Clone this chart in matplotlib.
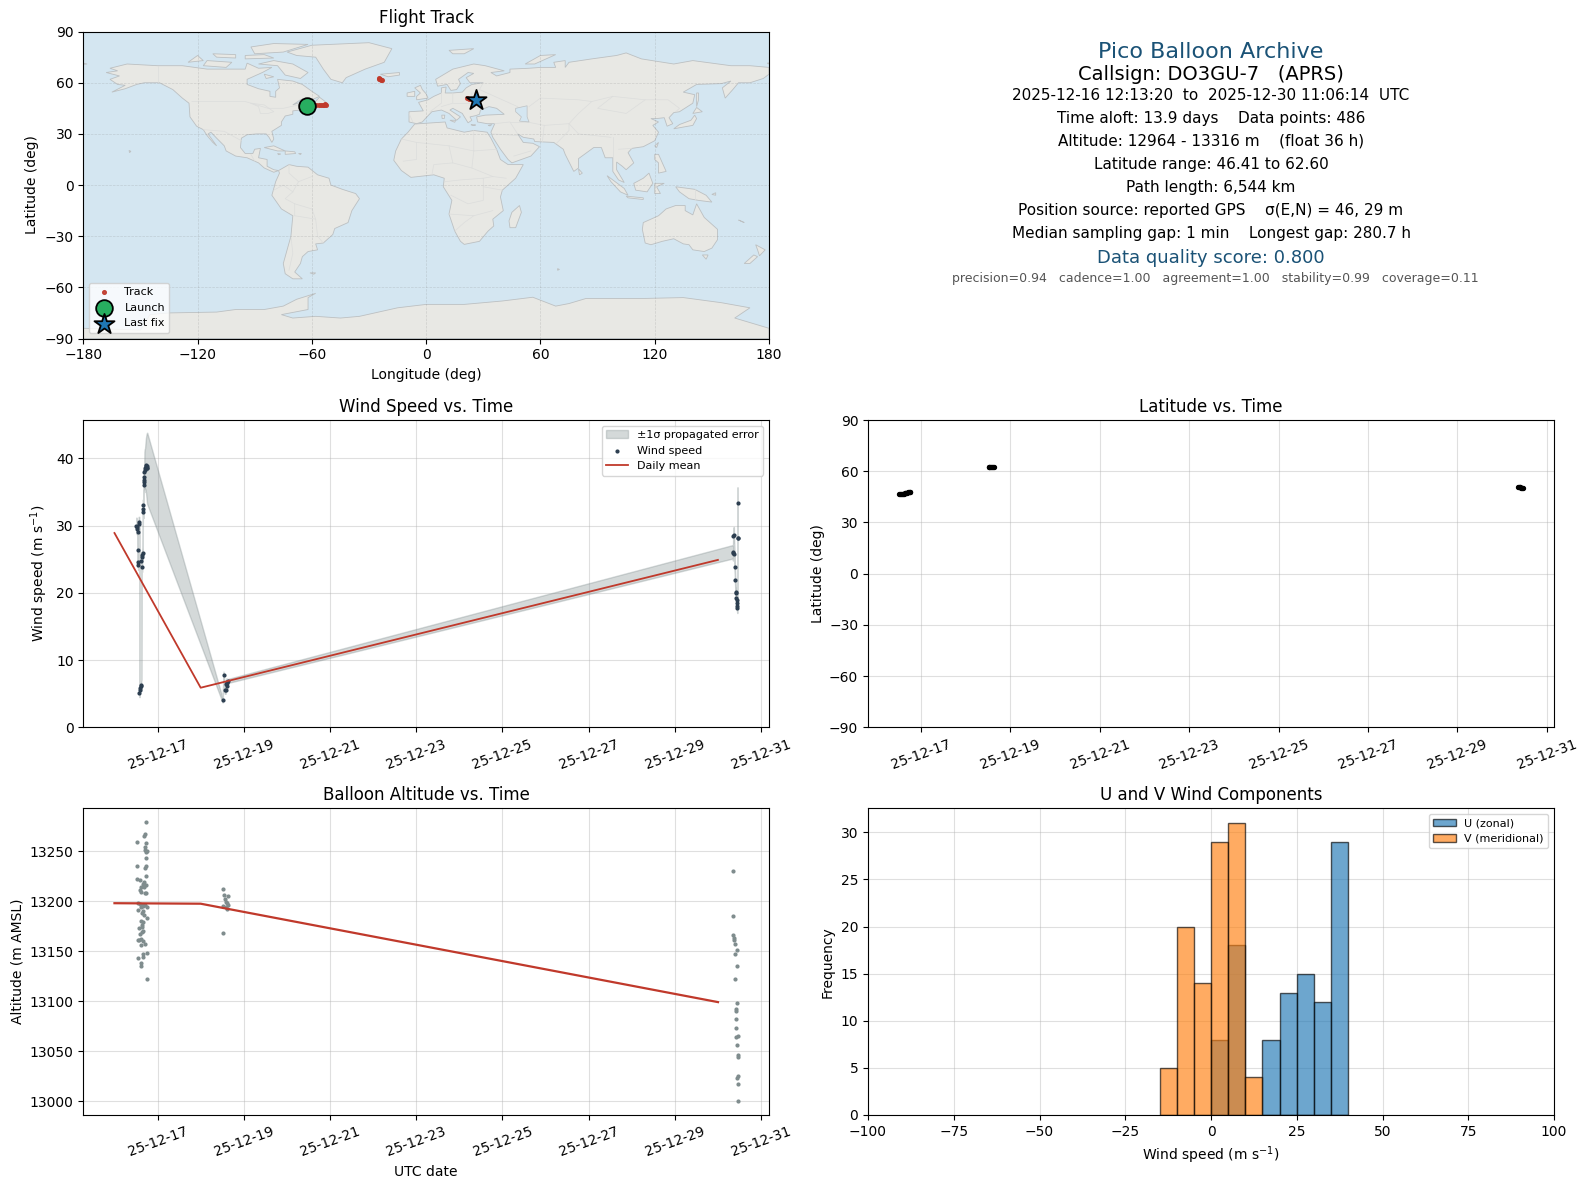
import datetime as dt
import numpy as np
import matplotlib
matplotlib.use("Agg")
import matplotlib.pyplot as plt
import matplotlib.dates as mdates

# ---------------- data ----------------
wind_day = [16.51,16.52,16.53,16.535,16.54,16.545,16.55,16.56,16.575,16.58,16.585,16.59,16.605,16.62,
            16.625,16.63,16.64,16.645,16.655,16.66,16.665,16.67,16.675,16.68,16.685,16.69,16.695,16.70,
            16.71,16.72,16.73,16.745,16.755,16.76,
            18.51,18.53,18.56,18.58,18.59,18.60,18.61,18.62,18.63,
            30.34,30.35,30.36,30.37,30.38,30.39,30.40,30.41,30.42,30.43,30.435,30.44,30.445,30.45,30.455,30.46,30.4625]
wind_val = [30.0,29.8,29.5,26.3,24.6,29.0,24.2,30.3,30.5,5.1,5.5,5.9,6.1,6.3,
            24.8,25.3,23.9,25.6,25.9,33.0,32.5,32.0,36.0,36.5,36.8,37.2,38.0,38.3,
            38.5,38.8,39.0,38.8,38.6,38.5,
            4.0,7.8,5.5,5.5,6.4,6.8,6.2,6.6,6.9,
            26.1,25.9,28.5,28.6,25.8,23.9,21.9,20.1,20.0,19.3,18.9,18.5,18.1,17.8,33.4,28.2,28.2]
wind_err = [1.2,1.0,1.0,1.0,0.8,1.0,0.8,1.0,0.8,0.6,0.6,0.6,0.6,0.8,
            0.8,0.8,0.8,0.8,0.8,0.9,0.9,0.9,1.2,1.2,1.5,1.5,3.0,3.0,
            3.0,3.5,4.0,4.8,5.2,5.3,
            0.3,0.5,0.5,0.5,0.5,0.5,0.5,0.4,0.3,
            1.0,1.1,1.2,1.2,1.1,1.0,1.0,0.9,0.9,0.9,0.9,0.9,0.9,0.8,2.3,0.6,0.5]
daily_day = [16, 18, 30]
wind_daily = [28.9, 5.9, 24.9]
alt_daily = [13198, 13197.5, 13099]

alt_day = [16.72,16.70,16.683,16.52,16.72,16.698,16.71,16.745,16.72,16.72,16.52,16.72,16.698,16.72,16.52,16.59,
           16.674,16.652,16.69,16.72,16.62,16.674,16.59,16.605,16.698,16.73,16.535,16.59,16.636,16.698,16.75,
           16.652,16.62,16.535,16.667,16.636,16.683,16.745,16.605,16.652,16.628,16.559,16.636,16.652,16.59,
           16.636,16.535,16.605,16.574,16.652,16.698,16.605,16.745,16.66,16.535,16.652,16.605,16.605,16.75,
           18.51,18.535,18.63,18.566,18.59,18.62,18.636,18.52,18.59,18.62,18.51,
           30.35,30.35,30.35,30.37,30.375,30.39,30.44,30.39,30.44,30.39,30.44,30.42,30.42,30.42,30.42,30.46,
           30.425,30.44,30.46,30.46,30.46,30.44,30.46,30.46]
alt_val = [13279,13267,13265,13259,13258,13254,13251,13250,13249,13243,13235,13235,13233,13225,13222,13221,
           13219,13217,13216,13216,13214,13214,13211,13209,13208,13208,13198,13197,13196,13196,13194,
           13195,13194,13191,13190,13188,13186,13183,13180,13179,13176,13173,13174,13170,13167,
           13169,13161,13162,13161,13160,13157,13156,13148,13147,13143,13144,13138,13135,13122,
           13212,13206,13205,13202,13199,13198,13196,13195,13194,13192,13168,
           13230,13185,13166,13163,13161,13157,13151,13147,13135,13122,13098,13092,13090,13082,13073,13065,
           13064,13056,13046,13044,13025,13023,13017,13000]

lat_day = [16.51,16.53,16.55,16.57,16.59,16.61,16.63,16.65,16.67,16.69,16.71,16.73,16.75,16.76,
           18.51,18.53,18.55,18.57,18.59,18.61,18.63,
           30.35,30.37,30.39,30.41,30.43,30.45,30.4625]
lat_val = [46.41,46.5,46.6,46.7,46.8,46.9,47.0,47.1,47.3,47.5,47.6,47.8,47.9,47.7,
           62.3,62.4,62.5,62.6,62.5,62.4,62.3,
           51.0,50.9,50.7,50.5,50.3,50.1,49.9]

track_lon = [-62.4,-60,-58,-56.5,-55,-54,-53.5,-53,-52.5,-25.0,-24.6,-24.2,-23.8,-23.4,21.3,22.5,23.5,24.0,24.8,25.5]
track_lat = [46.4,46.6,46.8,47,47.1,47.2,47.0,47.4,47.2,62.6,62.3,62,61.8,61.5,50.9,50.7,50.5,50.3,50.1,49.9]
launch_lon, launch_lat = -62.5, 46.41
last_lon, last_lat = 26.2, 49.7

bins = [-15,-10,-5,0,5,10,15,20,25,30,35]
u_counts = [0,0,0,8,18,0,8,13,15,12,29]
v_counts = [5,20,14,29,31,4,0,0,0,0,0]

info_lines = ["Pico Balloon Archive",
              "Callsign: DO3GU-7   (APRS)",
              "2025-12-16 12:13:20  to  2025-12-30 11:06:14  UTC",
              "Time aloft: 13.9 days    Data points: 486",
              "Altitude: 12964 - 13316 m    (float 36 h)",
              "Latitude range: 46.41 to 62.60",
              "Path length: 6,544 km",
              "Position source: reported GPS    σ(E,N) = 46, 29 m",
              "Median sampling gap: 1 min    Longest gap: 280.7 h",
              "Data quality score: 0.800",
              "precision=0.94   cadence=1.00   agreement=1.00   stability=0.99   coverage=0.11"]

# coarse land outlines, (lon, lat)
north_america = [(-168,66),(-162,67),(-166,68.5),(-157,71),(-141,70),(-128,70),(-115,68),(-108,68),(-95,68),(-94,71.5),
    (-88,68.5),(-81,69),(-86,66),(-94,62),(-94,59),(-88,56.5),(-82,55),(-82,52),(-79,51.5),(-79,55),(-77,57),(-78,62),
    (-70,61),(-65,59),(-60,55),(-56,52),(-60,50),(-66,50),(-70,47),(-65,49),(-65,47),(-61,46),(-66,44),(-70,43.5),
    (-70,41.5),(-74,40.5),(-76,37),(-76,35),(-81,31.5),(-80,27),(-81,25),(-82.5,28),(-84,30),(-89,30),(-94,29.5),
    (-97,27.5),(-97.5,22),(-95,18.5),(-91,18.5),(-90,21),(-87,21.5),(-88,16),(-83.5,15),(-83.5,11),(-80,9),(-77.5,8.5),
    (-80,7.5),(-85,10),(-88,13),(-94,16),(-100,17),(-105,20),(-106,23),(-110,27.5),(-113,31),(-114.5,30),(-110,23),
    (-112,25),(-115,29),(-117,32.5),(-120.5,34.5),(-124,40),(-124.5,48),(-128,51),(-133,56),(-140,60),(-148,60),
    (-152,59),(-158,56.5),(-165,54.5),(-158,58.5),(-162,59),(-166,62),(-161,64)]
greenland = [(-73,78),(-60,82),(-30,83.5),(-18,80),(-22,72),(-32,68),(-42,63),(-44,60),(-50,62),(-54,68),(-58,75),(-68,76)]
south_america = [(-77.5,8.5),(-72,12),(-68,11),(-62,10.5),(-57,6),(-51,4),(-50,0),(-44,-2.5),(-37,-5),(-35,-8),(-39,-15),
    (-41,-22),(-48,-25.5),(-49,-29),(-54,-34),(-58,-34.5),(-57,-38),(-62,-39),(-65,-42),(-66,-46),(-69,-51),(-65,-55),
    (-70,-55),(-74,-52),(-75,-46),(-73,-38),(-71,-30),(-70,-18),(-76,-14),(-81,-6),(-80,-2),(-79,2),(-77,7)]
africa = [(-6,35.8),(10,37),(11,33.5),(20,31),(25,32),(32,31),(34,27.5),(37,21),(39,15),(43,12),(51,12),(47,4),(40,-3),
    (39,-7),(40.5,-15),(35,-20),(35.5,-24),(32.5,-27),(28,-33),(20,-34.8),(18,-33),(15,-27),(12,-17),(13.5,-9),(9,-1),
    (9.5,4),(4,6),(-4,5),(-8,4.5),(-13,8.5),(-17,14.5),(-16,20),(-13,27),(-9.5,31)]
eurasia = [(-9,37),(-9,43),(-1.5,43.5),(-4,48.5),(1,50),(4,52),(8,54),(8,57),(10.5,57.5),(10,54),(14,54),(19,54.5),(21,57),
    (24,59),(30,60),(23,60),(21,63),(25,65.5),(22,66),(17,62),(18,59.5),(16,56),(13,55.5),(11,59),(6,58),(5,62),(14,68),
    (25,71),(31,70),(41,67),(34,66),(37,64),(44,66),(44,68),(54,68.5),(60,69),(68,69),(67,72),(73,73),(73,69),(75,72),
    (87,74),(100,76),(105,77.5),(113,74),(130,71),(140,73),(160,70),(170,70),(180,69),(180,65),(177,62.5),(170,60),
    (164,60),(161,56),(157,51),(155.5,57),(160,61),(155,59.5),(142,59),(135,54.5),(141,53),(140,48),(133,43),(130,42.5),
    (127.5,39.5),(129.5,36),(126.5,34.5),(125,39.5),(121,39),(118,39),(122,37),(119,35),(122,31),(120,26),(114,22.5),
    (108,21.5),(106,19),(109,13),(105,9),(103,11),(100,13.5),(100,9),(104,1.5),(101,3),(98,8),(98,16),(94,16),(92,22),
    (88,22),(80,15.5),(80,10),(77.5,8),(73,18),(72,21),(67,25),(57,25.5),(56.5,27),(51,28),(48,30),(51,25),(56,24.5),
    (59.5,22.5),(55,17),(45,13),(43,15),(39,21),(35,28),(34,31),(36,36),(32,36),(27,37),(26.5,40),(31,41),(41,41.5),
    (37,45),(33,46),(28.5,44),(28,41.5),(26,40.7),(23,40),(24,38),(22,36.5),(19.5,41),(19,42),(14,45),(12.5,44),(18,40),
    (16,38),(12,42),(8,44),(3,43),(0,39.5),(-2,37),(-5,36)]
australia = [(114,-22),(122,-18),(126,-14),(131,-12),(136,-12),(136,-15),(140,-17.5),(142,-11),(146,-19),(153,-26),(153,-32),
    (150,-37),(146,-39),(140,-38),(138,-35),(135,-34.5),(130,-31.5),(124,-33),(118,-35),(115,-34),(113.5,-26)]
antarctica = [(-180,-90),(-180,-84),(-150,-85),(-145,-76),(-135,-75),(-110,-74.5),(-100,-73),(-85,-73),(-75,-71),(-68,-67),
    (-58,-63.5),(-62,-66),(-62,-73),(-76,-76),(-70,-78),(-58,-77),(-45,-78),(-35,-77),(-15,-72),(0,-70),(20,-70),(40,-68),
    (56,-65.8),(68,-71),(75,-69.5),(84,-66.5),(115,-66.5),(135,-66),(155,-69),(165,-71),(170,-72),(162,-78),(180,-84),(180,-90)]
islands = [
    [(-80,73),(-70,71),(-62,66),(-66,62.5),(-74,64.5),(-78,70),(-88,71)],
    [(-117,70),(-105,69),(-102,72),(-115,73)], [(-125,72),(-117,73),(-120,76)],
    [(-90,77),(-75,78),(-62,82.5),(-80,83),(-92,81)], [(-95,74),(-80,74.5),(-85,76.5),(-95,76)],
    [(-110,75),(-100,74.5),(-100,76.5),(-112,77)], [(-85,65),(-80,63.5),(-84,62.5)],
    [(-59,48),(-53,47),(-53,49),(-56,51.5)], [(-24,65),(-14,66),(-14,64.5),(-20,63.5)],
    [(-85,22),(-80,23),(-74,20),(-78,20)], [(-74,20),(-69,19.5),(-68.5,18.5),(-74,18)],
    [(-67,18.5),(-65.5,18.5),(-66,17.9)], [(-78,18.5),(-76.3,18.2),(-77.5,17.8)],
    [(-156,20.3),(-155,19.8),(-155.7,19)], [(-61,-51.5),(-58,-51.5),(-59,-52.3)],
    [(49,-12),(50,-16),(47,-25),(44,-25),(43.5,-21),(45,-16)],
    [(-5,50),(1,51),(0,53.5),(-2,56),(-3,58.5),(-6,57),(-3,54),(-5,52)], [(-10,52),(-6,52),(-6,55),(-10,54)],
    [(12,79),(25,80),(20,77),(14,77)], [(52,71),(57,71),(68,76.5),(60,76)],
    [(142,46),(143,50),(143,54),(142,54)], [(130,33),(135,34),(140,35),(142,39),(141,41),(139,38),(133,35.5)],
    [(140,42),(145,43),(142,45.5)], [(120,23),(122,25),(121,22)], [(120,18),(122,18),(124,13),(126,8),(122,7),(122,13),(120,15)],
    [(80,9.5),(82,7),(80.5,6)], [(95,5.5),(104,-2),(106,-6),(102,-4),(97,2)], [(105,-6.5),(114,-7.5),(114,-8.5),(106,-7.5)],
    [(109,1),(114,4),(117,7),(119,1),(116,-4),(110,-3)], [(120,1),(125,1),(121,-1),(123,-5),(120,-5)],
    [(131,-1),(141,-2.5),(147,-6),(150,-10),(143,-9),(138,-8),(133,-4)], [(145,-41),(148,-41),(147,-43.5)],
    [(173,-35),(178,-38),(175,-41.5),(174,-38)], [(172,-41),(174,-42),(170,-46),(167,-46)],
    [(8.2,41),(9.8,41),(9.5,39),(8.4,39)], [(12.5,38),(15.5,38),(15,36.8)], [(23.5,35.4),(26,35.2),(24.5,35)],
    [(32.5,35),(34.5,35.5),(33.5,34.7)], [(150,-5.5),(152,-4.5),(152,-6)], [(165,-21),(167,-22),(164,-20.5)],
    [(69,-49),(70,-49.5),(69,-50)], [(-178,71),(-180,71.5),(-180,70.8)], [(179,71.5),(180,71),(180,71.6)],
]
caspian = [(47,45),(53,46.5),(53,40),(54,37),(49,37.5),(50,40),(47,43)]
borders = [
    [(-92,48),(-85,47),(-80,43),(-83,42),(-87,42),(-88,46),(-92,48)],
    [(-123,49),(-95,49),(-83,45),(-75,45),(-67,47)], [(-141,60),(-141,70)], [(-117,32.5),(-106,31.5),(-97,26)],
    [(-69,-18),(-69,-11),(-74,-8),(-70,-4),(-67,2),(-60,5)], [(-71,-30),(-70,-40),(-72,-50)],
    [(-69,-18),(-58,-20),(-57,-30),(-54,-34)], [(-58,-20),(-60,-14),(-69,-11)], [(-72,12),(-72,7),(-67,2)], [(-80,-3),(-75,0),(-70,-4)],
    [(-92,18),(-90,14)], [(-13,27),(-5,25),(12,23),(25,20),(25,32)], [(25,20),(37,21)], [(25,20),(24,10),(35,5),(42,4)],
    [(-5,25),(-5,15),(-12,14)], [(12,23),(14,13),(4,12),(3,6)], [(14,13),(24,10)], [(10,2),(18,3),(30,4),(35,5)],
    [(13,-6),(22,-11),(30,-9),(30,-1),(30,4)], [(12,-17),(25,-18),(35,-15)], [(15,-27),(20,-22),(25,-18)], [(30,-1),(40,-3)],
    [(2,43),(8,48),(8,54)], [(14,54),(14,48),(8,46)], [(24,54),(24,48),(29,45)], [(14,48),(24,48)], [(-9,42),(-7,37)],
    [(30,60),(28,56),(40,50),(48,46)], [(54,46),(60,51),(80,50),(87,49),(98,52),(115,50),(127,50),(133,45),(131,43)],
    [(75,36),(80,30),(97,28)], [(53,37),(62,35),(75,36),(80,42),(87,49)], [(61,25),(62,35)], [(68,24),(75,32),(75,36)],
    [(98,28),(98,16)], [(101,21),(108,21.5)], [(98,52),(90,45),(105,42),(115,50)], [(36,36),(44,37),(48,30)], [(44,37),(53,37)],
    [(35,30),(48,29)], [(46,17),(55,20)], [(141,-2.5),(141,-9)],
]

# ---------------- layout helpers ----------------
W, H = 1588, 1189
plt.rcParams["font.family"] = "DejaVu Sans"
fig = plt.figure(figsize=(W / 100, H / 100), dpi=100)


def box(left, right, top, bottom):
    return [left / W, 1 - bottom / H, (right - left) / W, (bottom - top) / H]


def days(values):
    base = mdates.date2num(dt.datetime(2025, 12, 1))
    return base + np.asarray(values, dtype=float) - 1


def date_axis(ax):
    ax.xaxis.set_major_locator(mdates.DayLocator(bymonthday=range(1, 32, 2)))
    ax.xaxis.set_major_formatter(mdates.DateFormatter("%y-%m-%d"))
    ax.tick_params(axis="x", labelrotation=20)
    ax.grid(True, alpha=0.4)
    ax.set_axisbelow(True)


RED = "#c0392b"
GREY = "#7f8c8d"
NAVY = "#1a5276"
DARK = "#2c3e50"

# ---------------- flight track ----------------
ax = fig.add_axes(box(83.3, 769, 31.6, 338.5))
ax.set_facecolor("#d4e6f1")
shapes = [north_america, greenland, south_america, africa, eurasia, australia, antarctica] + islands
for shape in shapes:
    lon, lat = zip(*shape)
    ax.fill(lon, lat, facecolor="#e8e8e4", edgecolor="#bcc0c2", lw=0.6, zorder=1)
for shape in borders:
    lon, lat = zip(*shape)
    ax.plot(lon, lat, color="#dcdddc", lw=0.5, zorder=1.2)
lon, lat = zip(*caspian)
ax.fill(lon, lat, facecolor="#d4e6f1", edgecolor="#bcc0c2", lw=0.5, zorder=1.4)
ax.grid(True, color="#808080", ls="--", lw=0.5, alpha=0.25, zorder=1.5)
ax.scatter(track_lon, track_lat, s=7, color=RED, alpha=0.9, zorder=3, label="Track")
ax.scatter([launch_lon], [launch_lat], s=144, color="#27ae60", edgecolor="black", lw=1.3, zorder=4, label="Launch")
ax.scatter([last_lon], [last_lat], s=230, marker="*", color="#1f77b4", edgecolor="black", lw=1.3, zorder=5, label="Last fix")
ax.set_xlim(-180, 180)
ax.set_ylim(-90, 90)
ax.set_xticks(range(-180, 181, 60))
ax.set_yticks(range(-90, 91, 30))
ax.set_xlabel("Longitude (deg)")
ax.set_ylabel("Latitude (deg)")
ax.set_title("Flight Track", fontsize=12)
ax.legend(loc="lower left", fontsize=8)

# ---------------- info panel ----------------
ax = fig.add_axes(box(868, 1554, 31, 338))
ax.axis("off")
sizes = [16, 14, 11, 11, 11, 11, 11, 11, 11, 13, 9]
colors = [NAVY, "black", "black", "black", "black", "black", "black", "black", "black", NAVY, "#555555"]
rows = [52, 74, 95.5, 118.5, 141.5, 164.5, 187.5, 210.5, 233.5, 258, 278.5]
offsets = [-0.5, 0, -0.5, 0, 0, 0, -0.5, -0.5, 0, 0, 4]
for line, size, colour, row, shift in zip(info_lines, sizes, colors, rows, offsets):
    ax.text(0.5 + shift / 686, 1 - (row - 31) / 307, line, fontsize=size, color=colour, ha="center", va="center", transform=ax.transAxes)

# ---------------- wind speed ----------------
ax = fig.add_axes(box(83.3, 769, 420, 727.4))
w_t = days(wind_day)
w_v = np.array(wind_val)
w_e = np.array(wind_err)
ax.fill_between(w_t, w_v - w_e, w_v + w_e, color=GREY, alpha=0.33, lw=1, label="±1σ propagated error")
ax.scatter(w_t, w_v, s=4, color=DARK, zorder=3, label="Wind speed")
ax.plot(days(daily_day), wind_daily, color=RED, lw=1.3, zorder=4, label="Daily mean")
ax.set_ylim(0, 45.7)
date_axis(ax)
ax.set_ylabel("Wind speed (m s$^{-1}$)")
ax.set_title("Wind Speed vs. Time", fontsize=12)
ax.legend(loc="upper right", fontsize=8)

# ---------------- latitude ----------------
ax = fig.add_axes(box(868, 1554, 420, 727.4))
ax.scatter(days(lat_day), lat_val, s=8, color="black")
ax.set_ylim(-90, 90)
ax.set_yticks(range(-90, 91, 30))
date_axis(ax)
ax.set_ylabel("Latitude (deg)", labelpad=3)
ax.set_title("Latitude vs. Time", fontsize=12)

# ---------------- altitude ----------------
ax = fig.add_axes(box(83.3, 769, 808.3, 1115))
ax.scatter(days(alt_day), alt_val, s=4, color=GREY, zorder=3)
ax.plot(days(daily_day), alt_daily, color=RED, lw=1.6, zorder=4)
date_axis(ax)
ax.set_ylim(12986, 13293)
ax.set_xlabel("UTC date")
ax.set_ylabel("Altitude (m AMSL)")
ax.set_title("Balloon Altitude vs. Time", fontsize=12)

# ---------------- histogram ----------------
ax = fig.add_axes(box(868, 1554, 808.3, 1115))
ax.bar(bins, u_counts, width=5, align="edge", color="#1f77b4", edgecolor="black", lw=1, alpha=0.65, label="U (zonal)")
ax.bar(bins, v_counts, width=5, align="edge", color="#ff7f0e", edgecolor="black", lw=1, alpha=0.65, label="V (meridional)")
ax.set_xlim(-100, 100)
ax.set_ylim(0, 32.55)
ax.grid(True, alpha=0.4)
ax.set_axisbelow(True)
ax.set_xlabel("Wind speed (m s$^{-1}$)")
ax.set_ylabel("Frequency")
ax.set_title("U and V Wind Components", fontsize=12)
ax.legend(loc="upper right", fontsize=8)

fig.savefig("out.png", dpi=100)
